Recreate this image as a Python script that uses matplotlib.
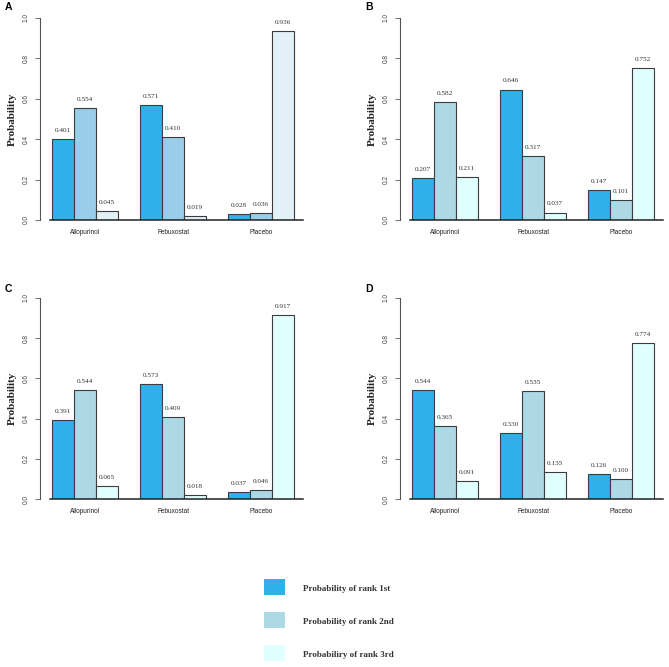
import matplotlib
matplotlib.use("Agg")
import matplotlib.pyplot as plt
import numpy as np
from matplotlib.patches import Rectangle

W, H = 669, 667
treatments = ["Allopurinol", "Febuxostat", "Placebo"]
rank_labels = ["Probability of rank 1st", "Probability of rank 2nd", "Probabiliry of rank 3rd"]

# values[panel][rank][treatment]
A_rank1 = [0.401, 0.571, 0.028]
A_rank2 = [0.554, 0.410, 0.036]
A_rank3 = [0.045, 0.019, 0.936]
B_rank1 = [0.207, 0.646, 0.147]
B_rank2 = [0.582, 0.317, 0.101]
B_rank3 = [0.211, 0.037, 0.752]
C_rank1 = [0.391, 0.573, 0.037]
C_rank2 = [0.544, 0.409, 0.046]
C_rank3 = [0.065, 0.018, 0.917]
D_rank1 = [0.544, 0.330, 0.126]
D_rank2 = [0.365, 0.535, 0.100]
D_rank3 = [0.091, 0.135, 0.774]
yticks = [0.0, 0.2, 0.4, 0.6, 0.8, 1.0]

col1 = "#2DB1E8"
colsA = [col1, "#98CEE7", "#E2F0F7"]
colsO = [col1, "#ADD8E6", "#E0FFFF"]
edge = "#3c3c3c"

fig = plt.figure(figsize=(W / 100, H / 100), dpi=100)

panels = [
    ("A", [A_rank1, A_rank2, A_rank3], colsA, 40, 220, 18, (8.5, 7.5)),
    ("B", [B_rank1, B_rank2, B_rank3], colsO, 400, 220, 18, (369.5, 7.5)),
    ("C", [C_rank1, C_rank2, C_rank3], colsO, 40, 499, 298, (8.5, 289)),
    ("D", [D_rank1, D_rank2, D_rank3], colsO, 400, 499, 298, (369.5, 289)),
]

unit = 22.0
xl0, xl1 = 0.45, 12.4

for letter, ranks, cols, axx, ybot, ytop, lpos in panels:
    left = axx / W
    width = (xl1 - xl0) * unit / W
    bottom = (H - ybot) / H
    height = (ybot - ytop) / H
    ax = fig.add_axes([left, bottom, width, height])
    ax.set_xlim(xl0, xl1)
    ax.set_ylim(0, 1)
    for ti, t in enumerate(treatments):
        for ri in range(3):
            x = 1 + ti * 4 + ri + 0.5
            v = ranks[ri][ti]
            ax.bar(x, v, width=1.0, color=cols[ri], edgecolor=edge, linewidth=0.8, zorder=2)
            ax.text(x, v + 0.03, f"{v:.3f}", ha="center", va="bottom",
                    fontsize=5.2, family="Liberation Serif", color="#333333", clip_on=False)
        ax.text(1 + ti * 4 + 1.5, -0.045, t, ha="center", va="top",
                fontsize=4.7, family="Liberation Sans", color="#222222")
    for s in ["top", "right"]:
        ax.spines[s].set_visible(False)
    ax.spines["left"].set_bounds(0, 1)
    ax.spines["left"].set_color("#555555")
    ax.spines["left"].set_linewidth(0.8)
    ax.spines["bottom"].set_bounds(0.9, 12.4)
    ax.spines["bottom"].set_color("#222222")
    ax.spines["bottom"].set_linewidth(1.1)
    ax.set_xticks([])
    ax.set_yticks(yticks)
    ax.set_yticklabels([f"{v:.1f}" for v in yticks], rotation=90, va="center",
                       fontsize=4.7, family="Liberation Sans", color="#444444")
    ax.tick_params(axis="y", length=3.5, width=0.6, color="#555555", pad=4)
    ax.set_ylabel("Probability", fontsize=8, family="Liberation Serif",
                  fontweight="bold", color="#222222", labelpad=4)
    fig.text(lpos[0] / W, 1 - lpos[1] / H, letter, ha="center", va="center",
             fontsize=7.5, fontweight="bold", family="Liberation Sans")

# legend
legend_y = [587, 620, 653]
for ri in range(3):
    yc = legend_y[ri]
    fig.patches.append(Rectangle((264 / W, 1 - (yc + 8) / H), 21 / W, 16 / H,
                                 transform=fig.transFigure, facecolor=colsO[ri],
                                 edgecolor="none"))
    fig.text(303 / W, 1 - (yc + 2) / H, rank_labels[ri], ha="left", va="center",
             fontsize=6.5, fontweight="bold", family="Liberation Serif", color="#333333")

fig.savefig("out.png", dpi=100)
